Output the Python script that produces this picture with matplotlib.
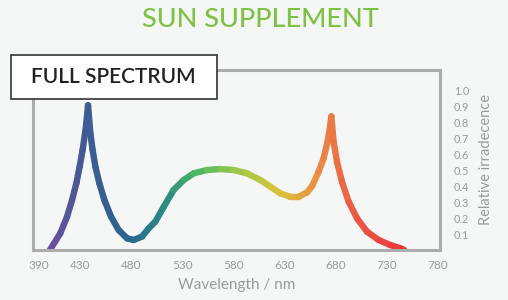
import numpy as np
import matplotlib
matplotlib.use("Agg")
import matplotlib.pyplot as plt
from matplotlib.collections import LineCollection
from matplotlib.colors import LinearSegmentedColormap
from matplotlib.patches import Rectangle

# spectrum (wavelength in nm, relative irradiance)
wavelength = [400.5, 410.7, 417.3, 422.2, 426.4, 429.6, 432.5, 434.9, 436.8,
              437.8, 440.1, 442.3, 445.0, 448.9, 453.8, 460.3, 467.7, 476.0,
              482.4, 490.6, 497.1, 503.6, 511.7, 521.5, 531.3, 541.1, 554.2,
              567.2, 580.2, 593.3, 606.3, 616.1, 625.9, 635.7, 643.8, 652.0,
              656.9, 663.3, 668.2, 672.1, 674.8, 675.8, 678.0, 681.3, 686.2,
              692.7, 700.9, 710.7, 722.0, 733.5, 743.2, 747.1]
irradiance = [0.0, 0.105, 0.21, 0.314, 0.42, 0.524, 0.629, 0.734, 0.839,
              0.91, 0.734, 0.629, 0.524, 0.42, 0.314, 0.21, 0.126, 0.073,
              0.063, 0.084, 0.136, 0.178, 0.27, 0.377, 0.44, 0.482, 0.503,
              0.509, 0.503, 0.482, 0.44, 0.398, 0.356, 0.335, 0.335, 0.362,
              0.40, 0.492, 0.576, 0.681, 0.786, 0.84, 0.681, 0.555, 0.429,
              0.304, 0.199, 0.115, 0.063, 0.031, 0.011, 0.0]

x_ticks = [390, 430, 480, 530, 580, 630, 680, 730, 780]
y_ticks = [0.1, 0.2, 0.3, 0.4, 0.5, 0.6, 0.7, 0.8, 0.9, 1.0]

title = "SUN SUPPLEMENT"
badge = "FULL SPECTRUM"

bg = "#f5f7f7"
grey = "#9a9a9a"

# colour ramp along the wavelength
spectrum_cmap = LinearSegmentedColormap.from_list("spec", [
    (0.00, "#6e4f9e"), (0.10, "#3f5b93"), (0.22, "#2a6590"),
    (0.33, "#2a8a82"), (0.42, "#4db962"), (0.55, "#a6ca46"),
    (0.66, "#dcc23a"), (0.76, "#e98c47"), (0.86, "#eb5c45"),
    (1.00, "#e8383b")])

fig = plt.figure(figsize=(5.08, 3.0), dpi=100, facecolor=bg)
ax = fig.add_axes([0.065, 0.1667, 0.801, 0.6])
ax.set_facecolor(bg)

x = np.array(wavelength)
y = np.array(irradiance)
pts = np.column_stack([x, y]).reshape(-1, 1, 2)
segs = np.concatenate([pts[:-1], pts[1:]], axis=1)
mid = (x[:-1] + x[1:]) / 2
colors = spectrum_cmap((mid - 400) / (747 - 400))
lc = LineCollection(segs, colors=colors, linewidths=4.6, capstyle="round",
                    joinstyle="round")
ax.add_collection(lc)

ax.set_xlim(384, 782)
ax.set_ylim(0, 1.132)

for s in ax.spines.values():
    s.set_color("#acacac")
    s.set_linewidth(2.2)

ax.set_xticks(x_ticks)
ax.set_xticklabels([str(t) for t in x_ticks])
ax.set_yticks(y_ticks)
ax.set_yticklabels(["%.1f" % t for t in y_ticks])
ax.tick_params(axis="x", length=0, pad=7, labelsize=8.5, labelcolor=grey)
ax.tick_params(axis="y", length=0, pad=10, labelsize=7.8, labelcolor=grey,
               left=False, labelleft=False, labelright=True)
for lab in ax.get_xticklabels() + ax.get_yticklabels():
    lab.set_family("Lato")

ax.set_xlabel("Wavelength / nm", fontsize=11, color=grey, family="Lato",
              labelpad=5)
ax.yaxis.set_label_position("right")
ax.set_ylabel("Relative irradecence", fontsize=10.5, color=grey, family="Lato",
              labelpad=7)

fig.text(0.513, 0.935, title, ha="center", va="center", fontsize=19.5,
         color="#7dc242", family="Lato", fontweight="medium")

# white badge sitting over the top-left corner of the frame
fig.patches.append(Rectangle((0.0217, 0.67), 0.4055, 0.1467,
                             transform=fig.transFigure, facecolor="white",
                             edgecolor="#333333", linewidth=1.2, zorder=5))
fig.text(0.224, 0.743, badge, ha="center", va="center", fontsize=15,
         color="#222222", family="Lato", fontweight="semibold", zorder=6)

fig.savefig("out.png", dpi=100, facecolor=bg)
